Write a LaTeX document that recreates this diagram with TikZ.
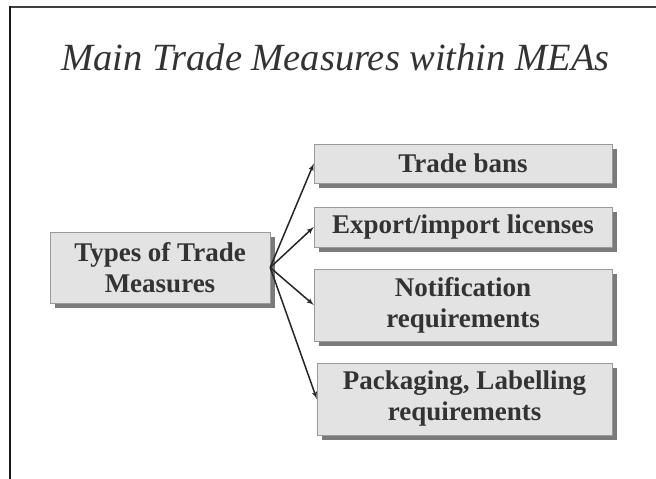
\documentclass[tikz,border=0pt]{standalone}
\usepackage{fontspec}
\setmainfont{Liberation Serif}
\usetikzlibrary{arrows,shadows}
\definecolor{boxfill}{HTML}{E3E3E3}
\definecolor{boxline}{HTML}{9A9A9A}
\definecolor{inkgray}{HTML}{333333}
\begin{document}
\begin{tikzpicture}[x=1pt,y=-1pt]
	\tikzset{measure/.style = {draw=boxline,fill=boxfill,text=inkgray,font=\fontsize{27}{31}\selectfont\bfseries,align=center,inner sep=0pt,minimum height=39pt,drop shadow={shadow xshift=5pt,shadow yshift=-5pt,fill=black!52,opacity=1}}}
	\tikzset{link/.style = {->,> = latex',draw=black!85,line width=1.5pt}}
	\useasboundingbox (0,0) rectangle (656,479);
	\draw[line width=1.5pt,black!75] (10,7) -- (656,7);
	\draw[line width=2.2pt,black!90] (10,6.3) -- (10,479);
	\node[inkgray,font=\fontsize{38.5}{40}\selectfont\itshape,anchor=base] (title) at (335.5,70) {Main Trade Measures within MEAs};
	\node[measure,minimum width=220pt,minimum height=71pt] (types) at (160,267.5) {Types of Trade\\Measures};
	\node[measure,minimum width=298pt] (bans) at (463,163.5) {Trade bans};
	\node[measure,minimum width=298pt,minimum height=40pt] (licenses) at (463,227) {Export/import licenses};
	\node[measure,minimum width=298pt,minimum height=72pt] (notification) at (463,305) {Notification\\requirements};
	\node[measure,minimum width=295pt,minimum height=72pt] (packaging) at (464.5,399) {Packaging, Labelling\\requirements};
	\draw[link] (types.east) -- (bans.west);
	\draw[link] (types.east) -- (licenses.west);
	\draw[link] (types.east) -- (notification.west);
	\draw[link] (types.east) -- (packaging.west);
\end{tikzpicture}
\end{document}
